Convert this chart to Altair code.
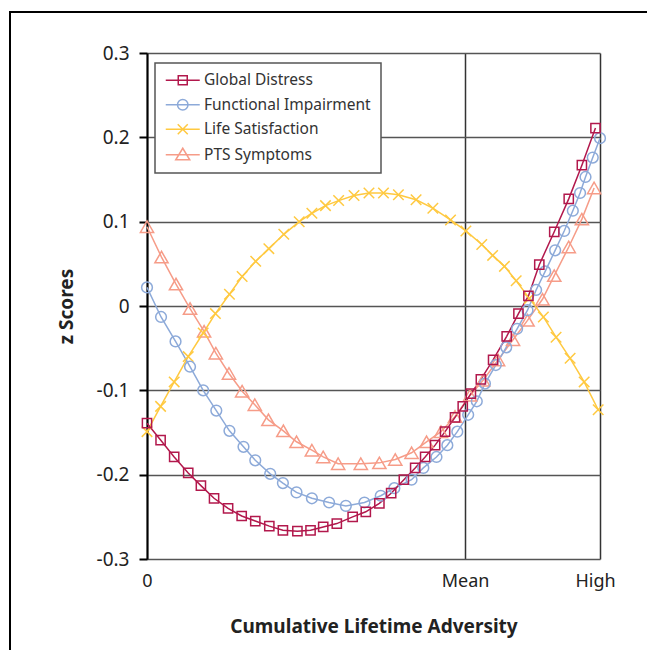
import altair as alt
import pandas as pd

series_names = ["Global Distress", "Functional Impairment", "Life Satisfaction", "PTS Symptoms"]
series_colors = ["#B2184C", "#8DAAD9", "#FFC940", "#F69C88"]
series_shapes = ["square", "circle", "M-1,-1L1,1M-1,1L1,-1", "triangle-up"]
series_sizes = [85, 115, 110, 175]
# legend symbols: a short line with the series marker on it
legend_symbols = [
    "M-3.4,0H3.4M-0.9,-0.9H0.9V0.9H-0.9Z",
    "M-3.4,0H3.4M1.05,0A1.05,1.05,0,1,1,-1.05,0A1.05,1.05,0,1,1,1.05,0Z",
    "M-3.4,0H3.4M-1,-1L1,1M-1,1L1,-1",
    "M-3.4,0H3.4M0,-1.3L1.4,1L-1.4,1Z",
]

x_tick_values = [0, 70.2, 100]
y_tick_values = [-0.3, -0.2, -0.1, 0, 0.1, 0.2, 0.3]

gd_x = [0, 3.0, 6.0, 9.1, 11.9, 14.8, 17.9, 20.9, 23.9, 27.0, 30.0, 33.2, 36.1, 38.9, 41.9,
        45.4, 48.3, 51.3, 53.9, 56.7, 59.2, 61.4, 63.6, 65.8, 68.0, 69.7, 71.5, 73.7, 76.4,
        79.4, 82.0, 84.2, 86.6, 89.9, 93.1, 96.0, 99.0]
gd_z = [-0.139, -0.159, -0.179, -0.198, -0.213, -0.228, -0.240, -0.249, -0.255, -0.261,
        -0.266, -0.267, -0.266, -0.262, -0.258, -0.250, -0.244, -0.234, -0.222, -0.206,
        -0.192, -0.179, -0.165, -0.149, -0.132, -0.119, -0.104, -0.087, -0.064, -0.036,
        -0.009, 0.012, 0.049, 0.088, 0.127, 0.167, 0.211]

fi_x = [0, 3.1, 6.3, 9.5, 12.4, 15.3, 18.2, 21.3, 23.9, 27.2, 30.0, 33.0, 36.4, 40.2, 43.9,
        48.0, 51.6, 54.6, 58.4, 61.0, 63.9, 66.3, 68.5, 70.9, 72.8, 74.6, 77.0, 79.3, 81.7,
        84.0, 85.9, 87.9, 90.1, 92.1, 94.0, 95.6, 96.8, 98.4, 100]
fi_z = [0.022, -0.013, -0.042, -0.072, -0.100, -0.124, -0.148, -0.167, -0.183, -0.199,
        -0.210, -0.221, -0.228, -0.233, -0.237, -0.233, -0.225, -0.216, -0.206, -0.192,
        -0.179, -0.165, -0.149, -0.129, -0.113, -0.092, -0.070, -0.049, -0.027, -0.005,
        0.019, 0.041, 0.066, 0.089, 0.113, 0.134, 0.153, 0.176, 0.199]

ls_x = [0, 3.0, 6.0, 9.1, 12.4, 15.1, 18.2, 21.0, 24.0, 26.9, 30.2, 33.6, 36.4, 39.4, 42.3,
        45.7, 49.0, 52.2, 55.5, 59.4, 63.1, 67.0, 70.4, 73.9, 76.3, 78.9, 81.5, 84.4, 87.5,
        90.3, 93.4, 96.5, 99.6]
ls_z = [-0.149, -0.119, -0.090, -0.060, -0.032, -0.009, 0.014, 0.035, 0.053, 0.068, 0.085,
        0.100, 0.110, 0.119, 0.125, 0.131, 0.134, 0.134, 0.132, 0.126, 0.116, 0.102, 0.089,
        0.073, 0.060, 0.047, 0.030, 0.009, -0.013, -0.037, -0.062, -0.090, -0.123]

pts_x = [0, 3.2, 6.4, 9.5, 12.6, 15.2, 18.1, 21.0, 23.8, 26.8, 30.1, 33.0, 36.4, 38.9, 42.2,
         47.2, 51.3, 54.8, 58.4, 61.7, 64.9, 68.0, 71.3, 74.2, 77.5, 80.8, 84.0, 87.3, 89.9,
         93.1, 96.0, 98.7]
pts_z = [0.094, 0.058, 0.026, -0.003, -0.030, -0.056, -0.080, -0.101, -0.117, -0.135, -0.148,
         -0.161, -0.171, -0.179, -0.187, -0.187, -0.186, -0.182, -0.174, -0.161, -0.149,
         -0.131, -0.106, -0.088, -0.064, -0.040, -0.017, 0.008, 0.036, 0.070, 0.103, 0.140]

rows = []
for name, xs, zs in [("PTS Symptoms", pts_x, pts_z), ("Life Satisfaction", ls_x, ls_z),
                     ("Functional Impairment", fi_x, fi_z), ("Global Distress", gd_x, gd_z)]:
    for xv, zv in zip(xs, zs):
        rows.append({"series": name, "x": xv, "z": zv})
df = pd.DataFrame(rows)

FONT = "Noto Sans"

legend = alt.Legend(orient="none", legendX=8, legendY=10, title=None, padding=9.5,
                    symbolSize=100, symbolOffset=10.5, labelOffset=13.5, rowPadding=6.5,
                    labelFont=FONT, labelFontSize=15.5, labelColor="#333333", labelLimit=400,
                    symbolStrokeWidth=1.5, symbolOpacity=1, symbolFillColor="transparent",
                    fillColor="white", strokeColor="#555555")

x_enc = alt.X("x:Q",
              scale=alt.Scale(domain=[0, 100], nice=False, zero=False),
              axis=alt.Axis(values=x_tick_values,
                            labelExpr="datum.value == 0 ? '0' : (datum.value == 100 ? 'High' : 'Mean')",
                            title="Cumulative Lifetime Adversity",
                            domain=False, ticks=False, grid=True, labelFlush=False,
                            gridColor="#333333", gridWidth=1.5,
                            labelFont=FONT, labelFontSize=18, labelColor="#222222",
                            labelPadding=13,
                            labelOffset={"condition": {"test": "datum.value == 100", "value": -5},
                                         "value": 0},
                            titleFont=FONT, titleFontSize=19, titleFontWeight="bold",
                            titleColor="#222222", titlePadding=27))
y_enc = alt.Y("z:Q",
              scale=alt.Scale(domain=[-0.3, 0.3], nice=False, zero=False),
              axis=alt.Axis(values=y_tick_values,
                            labelExpr="datum.value == 0 ? '0' : replace(format(datum.value, '.1f'), '\u2212', '-')",
                            title="z Scores",
                            domain=True, domainColor="black", domainWidth=2,
                            ticks=True, tickColor="black", tickWidth=2, tickSize=8,
                            grid=True, gridColor="#555555", gridWidth=1.5,
                            labelFont=FONT, labelFontSize=19, labelColor="#222222",
                            labelPadding=10,
                            titleFont=FONT, titleFontSize=19, titleFontWeight="bold",
                            titleColor="#222222", titlePadding=20))

color_scale = alt.Scale(domain=series_names, range=series_colors)

lines = alt.Chart(df).mark_line(strokeWidth=1.5).encode(
    x=x_enc, y=y_enc,
    color=alt.Color("series:N", scale=color_scale, legend=legend),
)

# invisible layer that only feeds the legend (line + marker symbols)
legend_layer = alt.Chart(df).mark_point(filled=False, opacity=0).encode(
    x=x_enc, y=y_enc,
    color=alt.Color("series:N", scale=color_scale, legend=legend),
    shape=alt.Shape("series:N", scale=alt.Scale(domain=series_names, range=legend_symbols),
                    legend=legend),
)

marker_layers = []
for name in ["PTS Symptoms", "Life Satisfaction", "Functional Impairment", "Global Distress"]:
    i = series_names.index(name)
    marker_layers.append(
        alt.Chart(df).transform_filter(alt.datum.series == name).mark_point(
            filled=False, strokeWidth=1.5, opacity=1, shape=series_shapes[i],
            size=series_sizes[i], color=series_colors[i]
        ).encode(x=x_enc, y=y_enc)
    )

one = pd.DataFrame({"a": [0]})
frame_top = alt.Chart(one).mark_rule(color="black", strokeWidth=2).encode(
    x=alt.value(-137), x2=alt.value(500), y=alt.value(-41))
frame_left = alt.Chart(one).mark_rule(color="black", strokeWidth=2).encode(
    x=alt.value(-137), y=alt.value(-42), y2=alt.value(600))

chart = alt.layer(frame_top, frame_left, lines, *marker_layers, legend_layer).properties(
    width=453, height=506,
    autosize=alt.AutoSizeParams(type="none"),
    padding={"left": 147, "top": 53, "right": 47, "bottom": 91},
    background="white",
).configure_view(stroke=None).configure_legend(strokeWidth=1.5)

chart.save("out.html", embed_options={"renderer": "svg", "actions": False})
